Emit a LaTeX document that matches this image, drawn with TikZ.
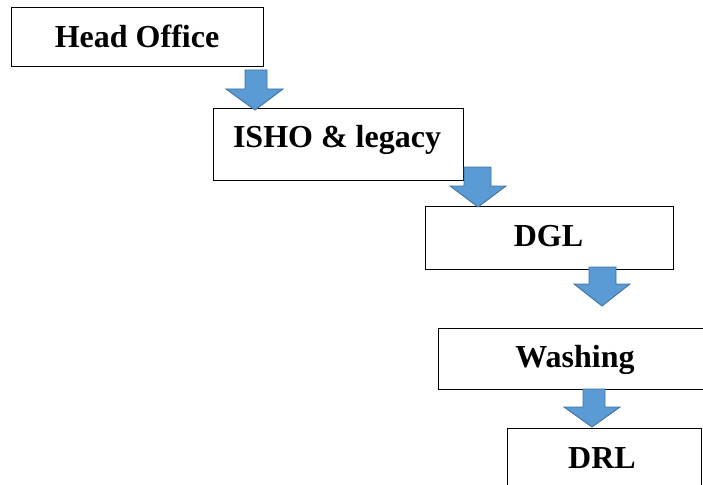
\documentclass[tikz,border=0pt]{standalone}
\usepackage{fontspec}
\setmainfont{Liberation Serif}
\definecolor{arrfill}{HTML}{5B9BD5}
\definecolor{arrline}{HTML}{41719C}
\begin{document}
\begin{tikzpicture}[x=1pt,y=-1pt,
  box/.style={draw=black,line width=0.9pt,fill=white},
  lbl/.style={font=\fontsize{32}{36}\selectfont\bfseries,inner sep=0pt,anchor=base},
  blockarrow/.style={fill=arrfill,draw=arrline,line width=0.9pt,line join=miter}]
\useasboundingbox (0,0) rectangle (703,484);
% boxes
\draw[box] (11,7) rectangle (263,66) coordinate (b1);
\draw[box] (213,108) rectangle (463,180);
\draw[box] (425,206) rectangle (673,269);
\draw[box] (438,328) rectangle (710,389);
\draw[box] (507,428) rectangle (701,500);
% labels
\node[lbl] (t1) at (137,48) {Head Office};
\node[lbl] (t2) at (337,147) {ISHO \& legacy};
\node[lbl] (t3) at (548.5,246) {DGL};
\node[lbl] (t4) at (575,367) {Washing};
\node[lbl] (t5) at (602,468) {DRL};
% block arrows
\draw[blockarrow] (245,70) -- (267,70) -- (267,89) -- (283,89) -- (255,110) -- (226,89) -- (245,89) -- cycle;
\draw[blockarrow] (464,167) -- (491,167) -- (491,186) -- (506,186) -- (478,207) -- (450,186) -- (464,186) -- cycle;
\draw[blockarrow] (589,267) -- (616,267) -- (616,284) -- (630,284) -- (602,306) -- (574,284) -- (589,284) -- cycle;
\draw[blockarrow] (583,389) -- (605,389) -- (605,407) -- (620,407) -- (592,427) -- (564,407) -- (583,407) -- cycle;
\end{tikzpicture}
\end{document}
